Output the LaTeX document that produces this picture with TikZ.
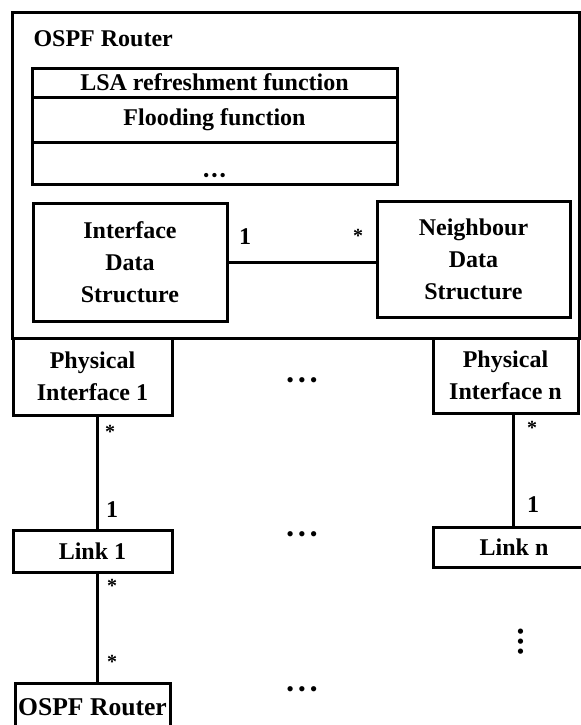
\documentclass[tikz,border=0pt]{standalone}
\usepackage{fontspec}
\setmainfont{Liberation Serif}
\begin{document}
\begin{tikzpicture}[x=0.5pt,y=-0.5pt]
   \tikzstyle{box} = [draw, line width=1.5pt, inner sep=0pt, align=center, font=\fontsize{12}{16}\selectfont\bfseries]
   \tikzstyle{mult} = [inner sep=0pt, font=\fontsize{12}{12}\selectfont\bfseries]
   \tikzstyle{star} = [inner sep=0pt, font=\fontsize{10}{10}\selectfont\bfseries]
   \tikzstyle{dotrow} = [inner sep=0pt, align=center, font=\fontsize{11}{11}\selectfont]
   \tikzstyle{line} = [draw, line width=1.5pt]
   \useasboundingbox (0,0) rectangle (581,725);

   % router and its parts
   \node[box, minimum width=283.5pt, minimum height=163pt] (router) at (295.5,175) {};
   \node[box, draw=none, anchor=west] (title) at (32,39) {OSPF Router};
   \node[box, minimum width=182.5pt, minimum height=14.5pt] (lsa) at (214.5,82.5) {LSA refreshment function};
   \node[box, minimum width=182.5pt, minimum height=22.5pt] (flood) at (214.5,119.5) {Flooding function};
   \node[box, minimum width=182.5pt, minimum height=21pt] (more) at (214.5,163) {};
   \node[dotrow, font=\fontsize{9}{9}\selectfont] (mdots) at (214.5,177) {\textbullet\hspace{1pt}\textbullet\hspace{1pt}\textbullet};
   \node[box, minimum width=97pt, minimum height=59pt] (ifds) at (130,262) {Interface\\Data\\Structure};
   \node[box, minimum width=96.5pt, minimum height=58pt] (nbds) at (473.5,259) {Neighbour\\Data\\Structure};
   \node[mult] (m1) at (245,237) {1};
   \node[star] (m2) at (358,236) {*};

   % interfaces
   \node[box, minimum width=79.5pt, minimum height=38.5pt] (pif1) at (92.5,376.5) {Physical\\Interface 1};
   \node[box, minimum width=72.5pt, minimum height=37.5pt] (pifn) at (505.5,375.5) {Physical\\Interface n};
   \node[dotrow] (idots) at (302,383) {\textbullet\hspace{2pt}\textbullet\hspace{2pt}\textbullet};

   % links
   \node[box, minimum width=79.5pt, minimum height=21pt] (link1) at (92.5,551) {Link 1};
   \node[box, minimum width=81pt, minimum height=20pt] (linkn) at (514,547) {Link n};
   \node[dotrow] (ldots) at (302,537) {\textbullet\hspace{2pt}\textbullet\hspace{2pt}\textbullet};

   % next router
   \node[box, font=\fontsize{12.8}{16}\selectfont\bfseries, minimum width=77.5pt, minimum height=24pt] (next) at (92.5,707) {OSPF Router};
   \node[dotrow] (rdots) at (302,692) {\textbullet\hspace{2pt}\textbullet\hspace{2pt}\textbullet};
   \node[dotrow, rotate=90] (vdots) at (523,642) {\textbullet\hspace{1.2pt}\textbullet\hspace{1.2pt}\textbullet};

   % multiplicities
   \node[star] (s1) at (110,432) {*};
   \node[mult] (o1) at (112,510) {1};
   \node[star] (s2) at (112,586) {*};
   \node[star] (s3) at (112,662) {*};
   \node[star] (s4) at (532,428) {*};
   \node[mult] (o2) at (533,505) {1};

   \path [line] (ifds.east) -- (ifds.east -| nbds.west);
   \path [line] ([xshift=2.25pt]pif1.south) -- ([xshift=2.25pt]pif1.south |- link1.north);
   \path [line] ([xshift=2.25pt]link1.south) -- ([xshift=2.25pt]link1.south |- next.north);
   \path [line] ([xshift=3.75pt]pifn.south) -- ([xshift=3.75pt]pifn.south |- linkn.north);
\end{tikzpicture}
\end{document}
